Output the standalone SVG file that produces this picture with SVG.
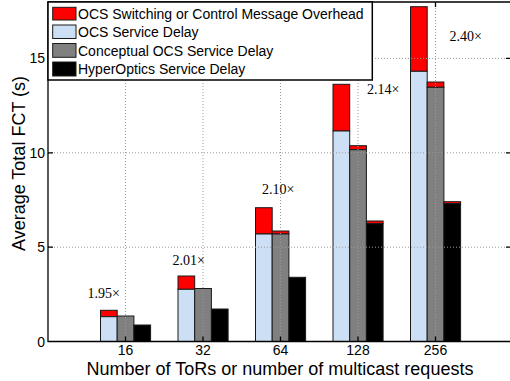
<svg xmlns="http://www.w3.org/2000/svg" width="510" height="381" viewBox="0 0 510 381">
<style>
.lbl{font-family:"Liberation Sans",Arial,sans-serif;font-size:14px;fill:#000}
.ttl{font-family:"Liberation Sans",Arial,sans-serif;font-size:18px;fill:#000}
.ratio{font-family:"Liberation Serif","Times New Roman",serif;font-size:14px;fill:#000}
.grid{stroke:#9a9a9a;stroke-width:1;stroke-dasharray:1,2;fill:none}
.bar{stroke:#1a1a1a;stroke-width:1}
.red{fill:#ff0000}
.blue{fill:#cddff5}
.grey{fill:#808080}
.blk{fill:#000}
.ax{stroke:#000;stroke-width:1.3;fill:none}
</style>
<rect width="510" height="381" fill="#fff"/>
<g id="bars">
 <g id="g16">
  <rect class="bar red" x="100.5" y="310.3" width="16.7" height="6.4"/>
  <rect class="bar blue" x="100.5" y="316.7" width="16.7" height="24.8"/>
  <rect class="bar grey" x="117.2" y="316" width="16.7" height="25.5"/>
  <rect class="bar blk" x="133.9" y="325" width="16.7" height="16.5"/>
 </g>
 <g id="g32">
  <rect class="bar red" x="178" y="276" width="16.7" height="13.3"/>
  <rect class="bar blue" x="178" y="289.3" width="16.7" height="52.2"/>
  <rect class="bar grey" x="194.7" y="288.5" width="16.7" height="53"/>
  <rect class="bar blk" x="211.4" y="309" width="16.7" height="32.5"/>
 </g>
 <g id="g64">
  <rect class="bar red" x="255.5" y="207.7" width="16.7" height="26.3"/>
  <rect class="bar blue" x="255.5" y="234" width="16.7" height="107.5"/>
  <rect class="bar red" x="272.2" y="231" width="16.7" height="3"/>
  <rect class="bar grey" x="272.2" y="234" width="16.7" height="107.5"/>
  <rect class="bar blk" x="288.9" y="277.3" width="16.7" height="64.2" stroke="#5a0000"/>
 </g>
 <g id="g128">
  <rect class="bar red" x="333" y="84.3" width="16.7" height="46.7"/>
  <rect class="bar blue" x="333" y="131" width="16.7" height="210.5"/>
  <rect class="bar red" x="349.7" y="145.7" width="16.7" height="4"/>
  <rect class="bar grey" x="349.7" y="149.7" width="16.7" height="191.8"/>
  <rect class="bar red" x="366.4" y="221" width="16.7" height="2.7"/>
  <rect class="bar blk" x="366.4" y="223.7" width="16.7" height="117.8"/>
 </g>
 <g id="g256">
  <rect class="bar red" x="410.5" y="6.7" width="16.7" height="64.6"/>
  <rect class="bar blue" x="410.5" y="71.3" width="16.7" height="270.2"/>
  <rect class="bar red" x="427.2" y="82" width="16.7" height="5.3"/>
  <rect class="bar grey" x="427.2" y="87.3" width="16.7" height="254.2"/>
  <rect class="bar red" x="443.9" y="201.7" width="16.7" height="2"/>
  <rect class="bar blk" x="443.9" y="203.7" width="16.7" height="137.8"/>
 </g>
</g>
<g id="grid">
 <line class="grid" x1="125.5" y1="2" x2="125.5" y2="341"/>
 <line class="grid" x1="203" y1="2" x2="203" y2="341"/>
 <line class="grid" x1="280.5" y1="2" x2="280.5" y2="341"/>
 <line class="grid" x1="358" y1="2" x2="358" y2="341"/>
 <line class="grid" x1="435.5" y1="2" x2="435.5" y2="341"/>
 <line class="grid" x1="48" y1="247.2" x2="510" y2="247.2"/>
 <line class="grid" x1="48" y1="152.8" x2="510" y2="152.8"/>
 <line class="grid" x1="48" y1="58.4" x2="510" y2="58.4"/>
</g>
<g id="axes">
 <polyline class="ax" points="512,2 48,2 48,341.5 512,341.5"/>
 <path class="ax" d="M125.5 341.5v-5M203 341.5v-5M280.5 341.5v-5M358 341.5v-5M435.5 341.5v-5M125.5 2v5M203 2v5M280.5 2v5M358 2v5M435.5 2v5M48 247.2h5M48 152.8h5M48 58.4h5M510 247.2h-4M510 152.8h-4M510 58.4h-4"/>
 <text class="lbl" x="45" y="346.5" text-anchor="end">0</text>
 <text class="lbl" x="45" y="252.2" text-anchor="end">5</text>
 <text class="lbl" x="45" y="157.8" text-anchor="end">10</text>
 <text class="lbl" x="45" y="63.4" text-anchor="end">15</text>
 <text class="lbl" x="125.5" y="354.5" text-anchor="middle">16</text>
 <text class="lbl" x="203" y="354.5" text-anchor="middle">32</text>
 <text class="lbl" x="280.5" y="354.5" text-anchor="middle">64</text>
 <text class="lbl" x="358" y="354.5" text-anchor="middle">128</text>
 <text class="lbl" x="435.5" y="354.5" text-anchor="middle">256</text>
 <text class="ttl" x="280" y="374.5" text-anchor="middle">Number of ToRs or number of multicast requests</text>
 <text class="ttl" transform="translate(24.5,163.5) rotate(-90)" text-anchor="middle">Average Total FCT (s)</text>
</g>
<g id="ratios">
 <text class="ratio" x="120" y="297.5" text-anchor="end">1.95×</text>
 <text class="ratio" x="205" y="265" text-anchor="end">2.01×</text>
 <text class="ratio" x="262" y="193.5">2.10×</text>
 <text class="ratio" x="367" y="93.5">2.14×</text>
 <text class="ratio" x="449.5" y="40.5">2.40×</text>
</g>
<g id="legend">
 <rect x="48" y="2" width="324.3" height="78" fill="#fff" stroke="#000" stroke-width="1.5"/>
 <rect class="bar red" x="52.7" y="7.3" width="23.3" height="12.7"/>
 <rect class="bar blue" x="52.7" y="25" width="23.3" height="13.5"/>
 <rect class="bar grey" x="52.7" y="43.5" width="23.3" height="13.8"/>
 <rect class="bar blk" x="52.7" y="62" width="23.3" height="14"/>
 <text class="lbl" x="78" y="18.8">OCS Switching or Control Message Overhead</text>
 <text class="lbl" x="78" y="37">OCS Service Delay</text>
 <text class="lbl" x="78" y="55.5">Conceptual OCS Service Delay</text>
 <text class="lbl" x="78" y="74">HyperOptics Service Delay</text>
</g>
</svg>
